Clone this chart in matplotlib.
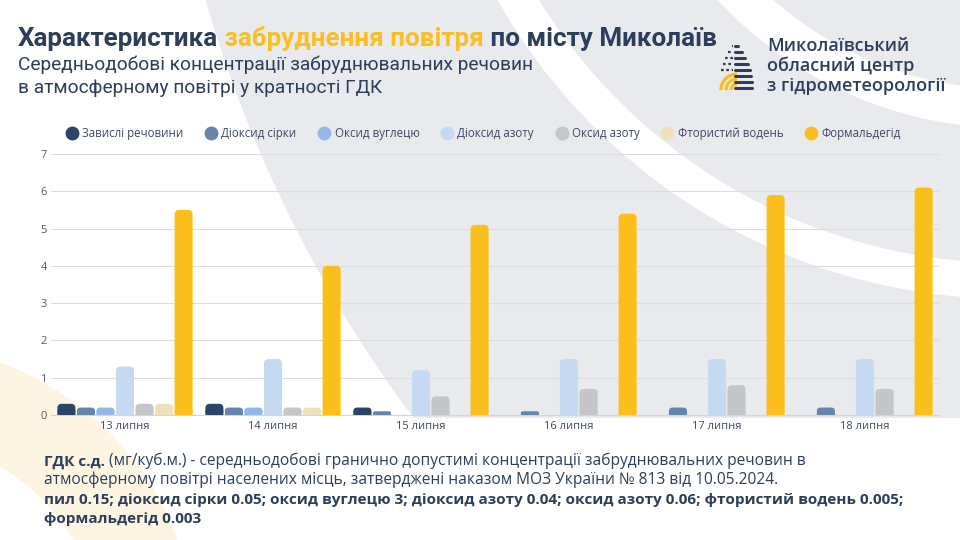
import matplotlib.pyplot as plt
from matplotlib.patches import Wedge, Rectangle, FancyBboxPatch, Arc
from matplotlib.lines import Line2D

days = ["13 липня", "14 липня", "15 липня", "16 липня", "17 липня", "18 липня"]
substances = ["Завислі речовини", "Діоксид сірки", "Оксид вуглецю", "Діоксид азоту",
              "Оксид азоту", "Фтористий водень", "Формальдегід"]
colors = ["#2c4468", "#6784ab", "#94b7e8", "#c6d9f2", "#c5c6ca", "#eee0bb", "#fbbf1c"]

# values in multiples of the daily limit (ГДК)
suspended = [0.3, 0.3, 0.2, 0, 0, 0]
so2 = [0.2, 0.2, 0.1, 0.1, 0.2, 0.2]
co = [0.2, 0.2, 0, 0, 0, 0]
no2 = [1.3, 1.5, 1.2, 1.5, 1.5, 1.5]
no = [0.3, 0.2, 0.5, 0.7, 0.8, 0.7]
hf = [0.3, 0.2, 0, 0, 0, 0]
hcho = [5.5, 4.0, 5.1, 5.4, 5.9, 6.1]
series = [suspended, so2, co, no2, no, hf, hcho]

yticks = [0, 1, 2, 3, 4, 5, 6, 7]

navy = "#2c3e5c"
yellow = "#fbbf24"
grey_bg = "#e9eaee"

fig = plt.figure(figsize=(9.6, 5.4), dpi=100)
fig.patch.set_facecolor("white")

# background decoration in pixel coordinates
bg = fig.add_axes([0, 0, 1, 1], zorder=0)
bg.set_xlim(0, 960)
bg.set_ylim(540, 0)
bg.axis("off")
clip = Rectangle((0, 0), 960, 418, transform=bg.transData)
big = Wedge((1459, -363), 1305, 0, 360, color=grey_bg, lw=0)
ring1 = Wedge((1010, -290), 589, 0, 360, width=36, color="white", lw=0)
ring2 = Wedge((1010, -270), 398, 0, 360, width=39, color="white", lw=0)
for p in (big, ring1, ring2):
    bg.add_patch(p)
    p.set_clip_path(clip)
bg.add_patch(Wedge((-100, 640), 295, 0, 360, width=95, color="#fdf5e2", lw=0))

# logo icon (rough)
hw = [3, 6, 9, 11, 13, 14, 15, 15]
for i, y in enumerate(range(46, 94, 6)):
    bg.plot([735, 735 + hw[i] * 1.15], [y, y], color=navy, lw=2.2, solid_capstyle="round")
    if i < 5:
        bg.plot([735 - hw[i] * 1.1, 733], [y, y], color=navy, lw=1.6, ls=(0, (1.2, 1.2)))
for r in (6, 11, 16):
    bg.add_patch(Arc((737, 90), 2 * r, 2 * r, theta1=180, theta2=270, color=yellow, lw=2.4))

logo_font = dict(family="Open Sans", fontweight="semibold", fontsize=13, color=navy, va="center")
bg.text(767, 46, "Миколаївський", **logo_font)
bg.text(767, 66, "обласний центр", **logo_font)
bg.text(767, 86, "з гідрометеорології", **logo_font)

# title
tfont = dict(family="Roboto", fontweight="bold", fontsize=18.7)
t1 = bg.text(18, 51, "Характеристика", color=navy, va="bottom", **tfont)
t2 = bg.annotate(" забруднення повітря", xy=(1, 0), xycoords=t1, va="bottom",
                 color=yellow, **tfont)
bg.annotate(" по місту Миколаїв", xy=(1, 0), xycoords=t2, va="bottom", color=navy, **tfont)
sub = dict(family="Roboto", fontsize=13.8, color=navy, va="center")
bg.text(18, 65, "Середньодобові концентрації забруднювальних речовин", **sub)
bg.text(18, 88, "в атмосферному повітрі у кратності ГДК", **sub)

# chart
ax = fig.add_axes([51 / 960, 1 - 415 / 540, 888 / 960, 261 / 540], zorder=2)
ax.set_facecolor("none")
ax.set_xlim(-0.5, len(days) - 0.5)
ax.set_ylim(0, 7)
aspect = (7 / 261) / (len(days) / 888)
slot = 0.132
bw = 0.122
rad = 0.03
for j, vals in enumerate(series):
    for i, v in enumerate(vals):
        if v <= 0:
            continue
        x0 = i + (j - 3) * slot - bw / 2
        r = min(rad, v / aspect / 2)
        ax.add_patch(FancyBboxPatch((x0 + r, r * aspect), bw - 2 * r, v - 2 * r * aspect,
                                    boxstyle=f"round,pad={r},rounding_size={r}",
                                    mutation_aspect=aspect, color=colors[j], lw=0,
                                    zorder=3, snap=False))
        # square off the bottom corners
        ax.add_patch(Rectangle((x0, 0), bw, min(v, r * aspect), color=colors[j], lw=0,
                               zorder=3, snap=False))

ax.set_yticks(yticks)
ax.set_xticks(range(len(days)))
ax.set_xticklabels(days)
ax.grid(axis="y", color="#dcdde2", lw=0.8, zorder=1)
ax.set_axisbelow(True)
for s in ("top", "right", "left"):
    ax.spines[s].set_visible(False)
ax.spines["bottom"].set_color("#d4d5da")
ax.tick_params(length=0)
ax.tick_params(axis="y", pad=3)
ax.tick_params(axis="x", pad=4)
for lab in ax.get_yticklabels():
    lab.set_fontfamily("Open Sans")
    lab.set_fontsize(8)
    lab.set_color("#555a66")
for lab in ax.get_xticklabels():
    lab.set_fontfamily("Open Sans")
    lab.set_fontsize(8)
    lab.set_fontweight("medium")
    lab.set_color("#3b4a63")

handles = [Line2D([], [], marker="o", ls="", markersize=9, color=c) for c in colors]
leg = fig.legend(handles, substances, ncol=7, frameon=False, loc="center",
                 bbox_to_anchor=(484 / 960, 1 - 134 / 540),
                 prop=dict(family="Open Sans", size=8.3, weight="medium"),
                 handlelength=0.8, handletextpad=0.5, columnspacing=2.0)
for t in leg.get_texts():
    t.set_color("#3b4a63")

# footnote
bfont = dict(family="Open Sans", color=navy, va="bottom")
b1 = bg.text(44, 469, "ГДК с.д.", fontweight="bold", fontsize=11, **bfont)
bg.annotate(" (мг/куб.м.) - середньодобові гранично допустимі концентрації забруднювальних речовин в",
            xy=(1, 0), xycoords=b1, fontsize=11.2, **bfont)
bg.text(44, 488, "атмосферному повітрі населених місць, затверджені наказом МОЗ України № 813 від 10.05.2024.",
        fontsize=11.2, **bfont)
bg.text(44, 507, "пил 0.15; діоксид сірки 0.05; оксид вуглецю 3; діоксид азоту 0.04; оксид азоту 0.06; "
        "фтористий водень 0.005;", fontweight="bold", fontsize=11, **bfont)
bg.text(44, 526, "формальдегід 0.003", fontweight="bold", fontsize=11, **bfont)

fig.savefig("out.png", dpi=100)
